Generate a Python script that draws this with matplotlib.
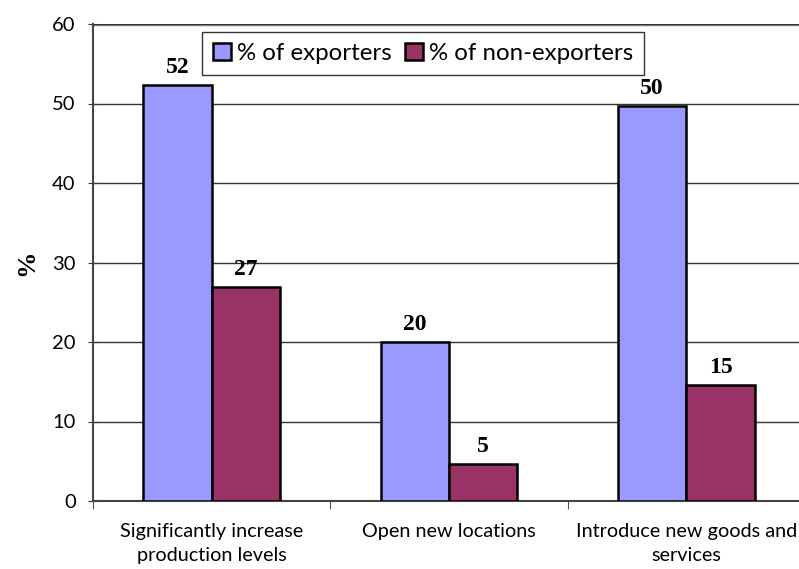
import matplotlib
matplotlib.use("Agg")
import matplotlib.pyplot as plt
import numpy as np

categories = ["Significantly increase\nproduction levels", "Open new locations", "Introduce new goods and\nservices"]
exporters = [52.3, 20.0, 49.7]
non_exporters = [26.9, 4.6, 14.6]
label_exp = ["52", "20", "50"]
label_non = ["27", "5", "15"]
series_names = ["% of exporters", "% of non-exporters"]

blue = "#9999ff"
plum = "#993366"
sans = ["Lato", "DejaVu Sans"]
serif = ["Liberation Serif", "DejaVu Serif"]

fig = plt.figure(figsize=(7.99, 5.69), dpi=100)
# plot area runs past the right edge, like the cropped original
ax = fig.add_axes([93 / 799, 68 / 569, 712 / 799, 477 / 569])

x = np.arange(len(categories)) + 0.5
w = 0.288
b1 = ax.bar(x - w / 2, exporters, w, color=blue, edgecolor="black", linewidth=1.8, zorder=3, label=series_names[0])
b2 = ax.bar(x + w / 2, non_exporters, w, color=plum, edgecolor="black", linewidth=1.8, zorder=3, label=series_names[1])

for bars, labels in ((b1, label_exp), (b2, label_non)):
    for r, t in zip(bars, labels):
        ax.annotate(t, (r.get_x() + r.get_width() / 2, r.get_height()), xytext=(0, 5),
                    textcoords="offset points", ha="center", va="bottom",
                    fontsize=17, fontweight="bold", family=serif)

ax.set_xlim(0, 3)
ax.set_ylim(0, 60)
ax.set_yticks(range(0, 61, 10))
ax.yaxis.grid(True, color="#333333", linewidth=1.0, zorder=0)
ax.set_xticks([0, 1, 2, 3])
ax.set_xticklabels([])
ax.set_xticks(x, minor=True)
ax.set_xticklabels(categories, minor=True, family=sans, fontsize=14.3, linespacing=1.5)
ax.tick_params(axis="x", which="minor", length=0, pad=16)
ax.tick_params(axis="x", which="major", length=6, direction="out", color="#555555")
ax.tick_params(axis="y", length=7, direction="inout", color="#333333", labelsize=14.5, pad=9)
for lbl in ax.get_yticklabels():
    lbl.set_family(sans)

ax.spines["top"].set_visible(False)
ax.spines["right"].set_visible(False)
ax.spines["left"].set_color("#444444")
ax.spines["left"].set_linewidth(1.5)
ax.spines["bottom"].set_color("#444444")
ax.spines["bottom"].set_linewidth(1.5)
ax.axhline(60, color="#888888", linewidth=2.5, zorder=1)

ax.set_ylabel("%", fontsize=19, fontweight="bold", family=serif, labelpad=10)

leg = ax.legend(loc="upper left", bbox_to_anchor=((202 - 93) / 712, (501 - 32) / 477),
                ncol=2, frameon=True, fancybox=False, edgecolor="black",
                prop={"family": sans, "size": 17.3}, handlelength=0.75, handleheight=0.75,
                handletextpad=0.25, columnspacing=0.55, borderpad=0.45, borderaxespad=0)
leg.get_frame().set_linewidth(1.0)

fig.savefig("out.png", dpi=100)
